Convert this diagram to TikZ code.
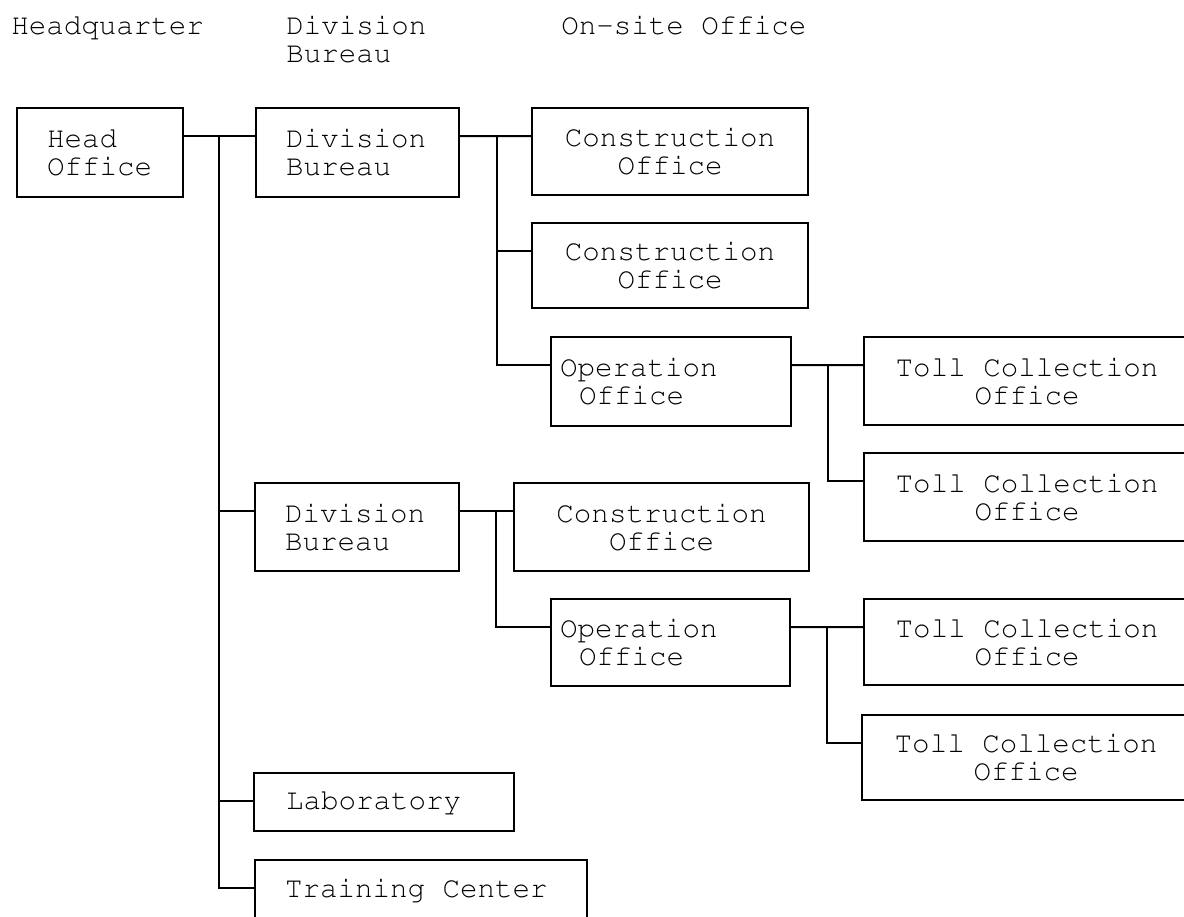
\documentclass[tikz,border=0pt]{standalone}
\usepackage[T1]{fontenc}
\usepackage{courier}
\newcommand{\wide}{\spaceskip=0.6em\relax}
\tikzset{
  unit/.style={draw, rectangle, line width=1.1pt, inner ysep=0pt},
  wire/.style={line width=1.1pt},
}
\begin{document}
\begin{tikzpicture}[font=\ttfamily\fontsize{16.6}{16}\selectfont]
        \useasboundingbox (0,0) rectangle (23.68,-18.32);
        % column headings
        \node[anchor=north west, inner sep=0] (hhq) at (0.22, -0.3) {Headquarter};
        \node[anchor=north west, inner sep=0, align=left] (hdiv) at (5.72, -0.3) {Division\\Bureau};
        \node[anchor=north west, inner sep=0] (hsite) at (11.22, -0.3) {On-site Office};
        % headquarter and division bureaus
        \node[unit, inner xsep=0.6cm, text width=2.12cm, align=left, minimum height=1.78cm] (hq) at (2.0, -3.05) {Head\\Office};
        \node[unit, inner xsep=0.6cm, text width=2.86cm, align=left, minimum height=1.78cm] (div1) at (7.15, -3.05) {Division\\Bureau};
        \node[unit, inner xsep=0.6cm, text width=2.88cm, align=left, minimum height=1.76cm] (div2) at (7.14, -10.54) {Division\\Bureau};
        \node[unit, inner xsep=0.64cm, text width=3.92cm, align=left, minimum height=1.16cm] (lab) at (7.68, -16.04) {Laboratory};
        \node[unit, inner xsep=0.6cm, text width=5.44cm, align=left, minimum height=1.2cm] (train) at (8.42, -17.8) {\wide Training Center};
        % on-site offices
        \node[unit, inner xsep=0.2cm, text width=5.12cm, align=center, minimum height=1.74cm] (con1) at (13.4, -3.03) {Construction\\Office};
        \node[unit, inner xsep=0.2cm, text width=5.12cm, align=center, minimum height=1.7cm] (con2) at (13.4, -5.31) {Construction\\Office};
        \node[unit, inner xsep=0.18cm, text width=4.44cm, align=left, minimum height=1.78cm] (op1) at (13.42, -7.63) {Operation\\\hspace*{0.38cm}Office};
        \node[unit, inner xsep=0.2cm, text width=5.5cm, align=center, minimum height=1.76cm] (con3) at (13.23, -10.54) {Construction\\Office};
        \node[unit, inner xsep=0.18cm, text width=4.42cm, align=left, minimum height=1.74cm] (op2) at (13.41, -12.85) {Operation\\\hspace*{0.38cm}Office};
        % toll collection offices
        \node[unit, inner xsep=0.2cm, text width=6.12cm, align=center, minimum height=1.76cm] (toll1) at (20.54, -7.62) {\wide Toll Collection\\Office};
        \node[unit, inner xsep=0.2cm, text width=6.12cm, align=center, minimum height=1.76cm] (toll2) at (20.54, -9.94) {\wide Toll Collection\\Office};
        \node[unit, inner xsep=0.2cm, text width=6.12cm, align=center, minimum height=1.72cm] (toll3) at (20.54, -12.84) {\wide Toll Collection\\Office};
        \node[unit, inner xsep=0.2cm, text width=6.16cm, align=center, minimum height=1.7cm] (toll4) at (20.52, -15.15) {\wide Toll Collection\\Office};
        % branch points
        \coordinate (jhq) at ([xshift=0.7cm, yshift=-0.58cm]hq.north east);
        \coordinate (jdiv1) at ([xshift=0.74cm, yshift=-0.58cm]div1.north east);
        \coordinate (jop1) at ([xshift=0.72cm, yshift=-0.58cm]op1.north east);
        \coordinate (jdiv2) at ([xshift=0.72cm, yshift=-0.58cm]div2.north east);
        \coordinate (jop2) at ([xshift=0.72cm, yshift=-0.58cm]op2.north east);
        % head office to its units
        \draw[wire] ([yshift=-0.58cm]hq.north east) -- ([yshift=-0.58cm]div1.north west);
        \draw[wire] (jhq) |- ([yshift=-0.58cm]div2.north west);
        \draw[wire] (jhq) |- ([yshift=-0.58cm]lab.north west);
        \draw[wire] (jhq) |- ([yshift=-0.58cm]train.north west);
        % first division bureau
        \draw[wire] ([yshift=-0.58cm]div1.north east) -- ([yshift=-0.58cm]con1.north west);
        \draw[wire] (jdiv1) |- ([yshift=-0.58cm]con2.north west);
        \draw[wire] (jdiv1) |- ([yshift=-0.58cm]op1.north west);
        \draw[wire] ([yshift=-0.58cm]op1.north east) -- ([yshift=-0.58cm]toll1.north west);
        \draw[wire] (jop1) |- ([yshift=-0.58cm]toll2.north west);
        % second division bureau
        \draw[wire] ([yshift=-0.58cm]div2.north east) -- ([yshift=-0.58cm]con3.north west);
        \draw[wire] (jdiv2) |- ([yshift=-0.58cm]op2.north west);
        \draw[wire] ([yshift=-0.58cm]op2.north east) -- ([yshift=-0.58cm]toll3.north west);
        \draw[wire] (jop2) |- ([yshift=-0.58cm]toll4.north west);
    \end{tikzpicture}
\end{document}
